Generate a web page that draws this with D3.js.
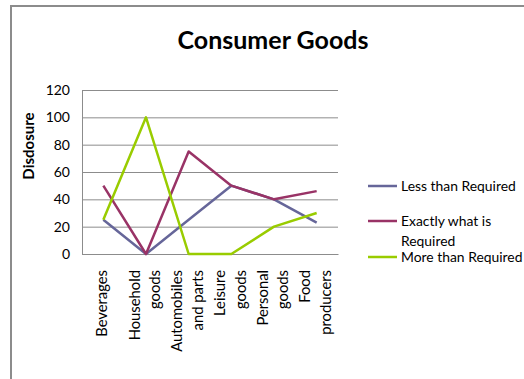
<!DOCTYPE html>
<html>
<head>
<meta charset="utf-8">
<script src="https://cdn.jsdelivr.net/npm/d3@7"></script>
<style>
  body { margin: 0; background: #fff; }
  svg { display: block; font-family: Lato, "Open Sans", sans-serif; }
  .grid line { stroke: #8c8c8c; stroke-width: 1; }
  .grid path { display: none; }
</style>
</head>
<body>
<div id="chart"></div>
<script>
  // categories and series
  var categories = ["Beverages", "Household goods", "Automobiles and parts", "Leisure goods", "Personal goods", "Food producers"];
  var catLines = [["Beverages"], ["Household", "goods"], ["Automobiles", "and parts"], ["Leisure", "goods"], ["Personal", "goods"], ["Food", "producers"]];
  var lessThan = [25, 0, 25, 50, 40, 23];
  var exactly = [50, 0, 75, 50, 40, 46];
  var moreThan = [25, 100, 0, 0, 20, 30];
  var yTicks = [0, 20, 40, 60, 80, 100, 120];

  var series = [
    {name: ["Less than Required"], values: lessThan, color: "#666699"},
    {name: ["Exactly what is", "Required"], values: exactly, color: "#993366"},
    {name: ["More than Required"], values: moreThan, color: "#99cc00"}
  ];

  var W = 524, H = 379;
  var margin = {top: 90, left: 82};
  var width = 256, height = 164;

  var svg = d3.select("#chart").append("svg")
      .attr("width", W)
      .attr("height", H);

  // outer chart border (cropped at right and bottom)
  svg.append("path")
      .attr("d", "M11," + H + "V6H" + W)
      .attr("fill", "none")
      .attr("stroke", "#8c8c8c")
      .attr("stroke-width", 2);

  svg.append("text")
      .attr("x", 273)
      .attr("y", 49)
      .attr("text-anchor", "middle")
      .attr("font-size", 25)
      .attr("font-weight", "bold")
      .text("Consumer Goods");

  var canvas = svg.append("g")
      .attr("transform", "translate(" + margin.left + "," + margin.top + ")");

  var xScale = d3.scaleBand()
      .domain(categories)
      .range([0, width]);
  var yScale = d3.scaleLinear()
      .domain([0, 120])
      .range([height, 0]);

  // gridlines
  canvas.append("g")
      .attr("class", "grid")
      .call(d3.axisLeft(yScale).tickValues(yTicks).tickSize(-width).tickFormat(""));

  // y axis labels
  canvas.append("g")
      .attr("class", "y axis")
      .call(d3.axisLeft(yScale).tickValues(yTicks).tickSize(0).tickPadding(12))
      .call(function(g) { g.select(".domain").attr("stroke", "#8c8c8c"); })
      .selectAll("text")
      .attr("font-size", 14)
      .attr("font-family", "Lato, sans-serif")
      .attr("fill", "#000");

  // x axis line
  canvas.append("g")
      .attr("class", "x axis")
      .attr("transform", "translate(0," + height + ")")
      .call(d3.axisBottom(xScale).tickSize(0).tickFormat(""))
      .select(".domain").attr("stroke", "#8c8c8c");

  // rotated, wrapped category labels
  var lineGap = 20.5;
  categories.forEach(function(c, i) {
    var lines = catLines[i];
    var cx = xScale(c) + xScale.bandwidth() / 2;
    lines.forEach(function(t, j) {
      var x = cx + (j - (lines.length - 1) / 2) * lineGap + 4;
      canvas.append("text")
          .attr("transform", "translate(" + x + "," + (height + 16) + ") rotate(-90)")
          .attr("text-anchor", "end")
          .attr("font-size", 14.8)
          .text(t);
    });
  });

  svg.append("text")
      .attr("transform", "translate(34,146) rotate(-90)")
      .attr("text-anchor", "middle")
      .attr("font-size", 15)
      .attr("font-weight", "bold")
      .text("Disdosure");

  var line = d3.line()
      .x(function(d, i) { return xScale(categories[i]) + xScale.bandwidth() / 2; })
      .y(function(d) { return yScale(d); });

  canvas.selectAll(".series")
      .data(series)
      .enter()
      .append("path")
      .attr("class", "series")
      .attr("fill", "none")
      .attr("stroke", function(d) { return d.color; })
      .attr("stroke-width", 2.5)
      .attr("stroke-linejoin", "round")
      .attr("d", function(d) { return line(d.values); });

  // legend
  var legendY = [186, 221, 257];
  var legend = svg.append("g");
  series.forEach(function(s, i) {
    var y = legendY[i];
    legend.append("line")
        .attr("x1", 368).attr("x2", 397)
        .attr("y1", y).attr("y2", y)
        .attr("stroke", s.color)
        .attr("stroke-width", 2.5);
    s.name.forEach(function(t, j) {
      legend.append("text")
          .attr("x", 401)
          .attr("y", y + 5 + j * 20)
          .attr("font-size", 13.9)
          .text(t);
    });
  });
</script>
</body>
</html>
